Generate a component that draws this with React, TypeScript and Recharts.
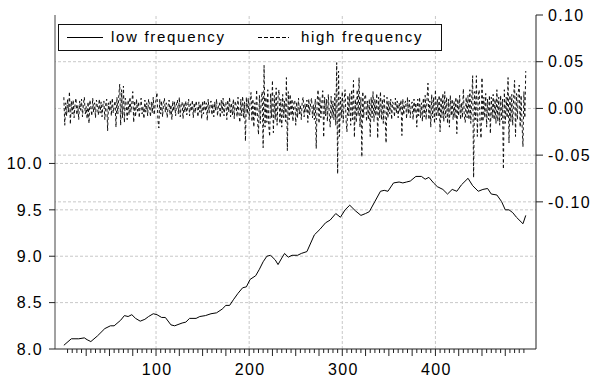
import React from 'react'
import { LineChart, Line, XAxis, YAxis, ReferenceLine, Legend } from 'recharts'

// low frequency component (left axis), read at irregular observation points
const lowX = [
  1, 9, 17, 23, 26, 30, 37, 45, 51, 55, 62, 66, 70, 74, 78, 83, 88, 92, 97, 101,
  106, 110, 116, 120, 128, 132, 136, 143, 147, 153, 159, 165, 171, 175, 179, 183, 188, 193, 197, 201,
  207, 211, 215, 219, 223, 228, 231, 235, 238, 242, 246, 252, 256, 262, 270, 276, 282, 287, 293, 298,
  303, 308, 314, 320, 325, 329, 335, 341, 345, 349, 355, 361, 365, 369, 373, 379, 385, 389, 393, 398,
  402, 408, 413, 418, 423, 428, 435, 440, 446, 451, 456, 460, 466, 471, 475, 479, 483, 487, 494, 497,
]
const lowValues = [
  8.04, 8.11, 8.11, 8.12, 8.10, 8.08, 8.14, 8.22, 8.25, 8.25, 8.31, 8.36, 8.35, 8.37, 8.33, 8.30, 8.32, 8.35, 8.38, 8.37,
  8.34, 8.34, 8.26, 8.25, 8.28, 8.29, 8.33, 8.33, 8.35, 8.36, 8.38, 8.39, 8.43, 8.47, 8.47, 8.53, 8.60, 8.66, 8.67, 8.75,
  8.79, 8.86, 8.94, 9.00, 9.01, 8.96, 8.91, 8.98, 9.03, 8.99, 9.01, 9.01, 9.03, 9.05, 9.23, 9.29, 9.36, 9.39, 9.46, 9.42,
  9.50, 9.55, 9.49, 9.44, 9.46, 9.48, 9.59, 9.70, 9.71, 9.70, 9.79, 9.80, 9.79, 9.80, 9.81, 9.86, 9.86, 9.83, 9.85, 9.79,
  9.75, 9.72, 9.67, 9.72, 9.70, 9.77, 9.84, 9.76, 9.70, 9.72, 9.73, 9.67, 9.66, 9.59, 9.50, 9.50, 9.47, 9.42, 9.35, 9.44,
]

// high frequency component (right axis), observations 1..497
const highValues = [
  0.012, -0.018, 0.006, -0.008, 0.010, -0.004, 0.018, -0.017, 0.008, -0.006,
  0.009, -0.010, 0.004, 0.011, -0.007, 0.003, -0.012, 0.008, -0.002, 0.010,
  -0.009, 0.005, 0.012, -0.006, 0.002, -0.011, 0.007, -0.016, 0.009, 0.001,
  -0.008, 0.011, -0.004, 0.006, -0.010, 0.009, 0.003, -0.007, 0.010, -0.005,
  0.007, -0.009, 0.004, 0.008, -0.012, 0.005, 0.010, -0.024, 0.006, -0.003,
  0.009, -0.008, 0.011, -0.005, 0.003, 0.008, -0.020, 0.012, -0.006, 0.014,
  0.026, -0.018, 0.020, -0.010, 0.024, -0.015, 0.011, 0.004, -0.012, 0.009,
  -0.007, 0.012, -0.004, 0.006, 0.018, -0.015, 0.008, -0.009, 0.010, -0.003,
  0.007, -0.010, 0.005, 0.011, -0.006, 0.002, -0.011, 0.009, -0.004, 0.006,
  -0.008, 0.010, 0.003, -0.009, 0.007, -0.005, 0.012, -0.007, 0.004, 0.009,
  0.017, -0.012, -0.021, 0.010, -0.006, 0.008, -0.009, 0.005, 0.011, -0.004,
  0.006, -0.010, 0.003, 0.009, -0.007, 0.004, -0.012, 0.008, -0.003, 0.007,
  -0.008, 0.005, 0.009, -0.006, 0.012, -0.009, 0.004, 0.007, -0.011, 0.006,
  -0.004, 0.008, -0.007, 0.003, 0.010, -0.008, 0.005, -0.003, 0.009, -0.010,
  0.006, -0.005, 0.008, 0.002, -0.009, 0.007, -0.004, 0.005, -0.011, 0.008,
  -0.006, 0.009, -0.003, 0.006, -0.013, 0.010, -0.005, 0.004, 0.008, -0.007,
  0.005, -0.009, 0.007, -0.002, 0.010, -0.008, 0.003, 0.006, -0.010, 0.009,
  -0.005, 0.011, -0.008, 0.004, 0.007, -0.012, 0.009, -0.004, 0.012, -0.009,
  0.006, -0.007, 0.010, -0.011, 0.008, 0.003, -0.009, 0.012, -0.006, -0.015,
  0.010, -0.008, 0.013, -0.010, 0.007, -0.035, 0.012, -0.006, 0.011, -0.012,
  0.008, 0.017, -0.014, 0.010, -0.020, 0.006, -0.009, 0.020, -0.012, -0.028,
  0.014, -0.016, 0.010, 0.018, -0.042, 0.046, -0.020, 0.012, -0.015, 0.020,
  -0.018, -0.030, 0.016, -0.010, 0.030, -0.026, 0.014, -0.012, 0.022, -0.018,
  0.012, 0.020, -0.016, 0.010, -0.020, 0.015, -0.010, 0.008, -0.014, 0.033,
  -0.045, 0.018, -0.012, 0.015, -0.008, 0.010, -0.014, 0.006, 0.009, -0.018,
  0.007, -0.010, 0.011, -0.006, 0.004, -0.012, 0.008, 0.012, -0.009, 0.005,
  -0.004, 0.009, -0.015, 0.010, -0.007, 0.006, 0.011, -0.010, 0.004, -0.012,
  0.010, -0.043, 0.008, 0.020, -0.016, 0.012, -0.010, 0.006, 0.019, -0.031,
  0.012, -0.008, 0.010, -0.014, 0.015, -0.006, -0.020, 0.013, -0.010, 0.008,
  -0.012, 0.016, -0.018, 0.049, -0.070, 0.040, -0.030, 0.012, -0.010, 0.018,
  -0.015, 0.010, 0.020, -0.012, -0.025, 0.014, -0.008, 0.016, -0.018, 0.020,
  -0.012, 0.030, -0.031, 0.010, -0.015, 0.020, -0.008, 0.033, -0.020, 0.012,
  -0.052, 0.018, -0.010, 0.012, 0.015, -0.014, 0.008, -0.012, 0.010, -0.030,
  0.012, -0.010, 0.018, -0.014, 0.010, -0.008, 0.016, -0.032, 0.012, -0.010,
  0.018, -0.012, 0.010, -0.016, 0.014, -0.008, -0.037, 0.012, -0.010, 0.008,
  -0.006, 0.010, -0.012, 0.007, 0.004, -0.009, 0.011, -0.005, 0.008, -0.010,
  0.006, -0.004, 0.009, -0.029, 0.010, -0.007, 0.005, 0.008, -0.011, 0.012,
  -0.006, 0.009, -0.010, 0.004, 0.007, -0.012, 0.010, -0.005, 0.006, -0.020,
  0.010, -0.008, 0.012, -0.010, 0.006, -0.014, 0.011, -0.009, 0.014, -0.012,
  0.010, 0.027, -0.012, 0.008, -0.020, 0.015, -0.010, 0.012, -0.016, 0.020,
  -0.012, 0.010, -0.008, 0.014, -0.025, 0.012, -0.010, 0.016, -0.014, 0.018,
  -0.010, 0.012, -0.016, 0.010, -0.020, 0.014, -0.008, 0.010, -0.012, 0.008,
  -0.010, 0.012, -0.027, 0.010, -0.008, 0.014, -0.012, 0.006, -0.010, 0.021,
  -0.008, -0.015, 0.012, -0.010, 0.014, -0.012, 0.020, -0.016, 0.010, 0.035,
  -0.074, 0.018, -0.012, 0.035, -0.030, 0.014, 0.020, -0.018, -0.032, 0.033,
  -0.014, 0.012, -0.010, 0.016, -0.020, 0.010, -0.012, 0.014, -0.027, 0.012,
  -0.010, 0.015, -0.012, 0.010, -0.016, 0.020, -0.014, 0.012, -0.018, 0.014,
  -0.012, 0.010, -0.065, 0.020, -0.016, 0.012, -0.010, 0.033, -0.037, 0.014,
  -0.014, 0.015, -0.018, 0.012, 0.030, -0.030, 0.016, -0.012, 0.018, 0.025,
  -0.020, 0.014, -0.016, -0.041, 0.018, -0.010, 0.040,
]

const xTicks = Array.from({ length: 99 }, (_, i) => (i + 1) * 5)
const xGrid = [100, 200, 300, 400]
const leftTicks = [8.0, 8.5, 9.0, 9.5, 10.0]
const rightTicks = [0.1, 0.05, 0.0, -0.05, -0.1]

const lowData = lowX.map((x, i) => ({ x, v: lowValues[i] }))
const highData = highValues.map((v, i) => ({ x: i + 1, v }))

const gridStyle = { stroke: '#c8c8c8', strokeDasharray: '3 2', strokeWidth: 1 }
const axisFont = { fill: '#000', fontSize: 16, letterSpacing: '1.3px' }

function XTick(props: any) {
  const { x, y, payload } = props
  const v = payload.value
  const len = v % 25 === 0 ? 7 : 4
  return (
    <g>
      <line x1={x} y1={y} x2={x} y2={y + len} stroke="#222" />
      {v % 100 === 0 && (
        <text x={x + 1} y={y + 26} textAnchor="middle" {...axisFont}>
          {v}
        </text>
      )}
    </g>
  )
}

function LegendBox() {
  return (
    <div
      style={{
        position: 'relative',
        width: 384,
        height: 27,
        boxSizing: 'border-box',
        border: '1px solid #111',
        background: '#fff',
        fontSize: 15,
        letterSpacing: '1.7px',
        lineHeight: '24px',
        color: '#000',
      }}
    >
      <svg width={384} height={25} style={{ position: 'absolute', left: 0, top: 0 }}>
        <line x1={8} y1={12.5} x2={44} y2={12.5} stroke="#000" strokeWidth={1} />
        <line x1={199} y1={12.5} x2={230} y2={12.5} stroke="#000" strokeWidth={1} strokeDasharray="4 2" />
      </svg>
      <span style={{ position: 'absolute', left: 52, top: 0 }}>low frequency</span>
      <span style={{ position: 'absolute', left: 242, top: 0 }}>high frequency</span>
    </div>
  )
}

export default function App() {
  return (
    <div
      style={{
        position: 'absolute',
        left: 0,
        top: 0,
        width: 590,
        height: 380,
        background: '#fff',
        fontFamily: '"Liberation Sans", Arial, sans-serif',
      }}
    >
      <LineChart width={590} height={380} margin={{ top: 15, right: 0, bottom: 0, left: 0 }}>
        <XAxis
          xAxisId="bottom"
          dataKey="x"
          type="number"
          domain={[-8.5, 508]}
          ticks={xTicks}
          interval={0}
          allowDataOverflow
          height={31}
          tickSize={0}
          tickMargin={0}
          tick={<XTick />}
          axisLine={{ stroke: '#222' }}
        />
        <XAxis
          xAxisId="top"
          orientation="top"
          dataKey="x"
          type="number"
          domain={[-8.5, 508]}
          height={0}
          tick={false}
          tickLine={false}
          axisLine={{ stroke: '#777' }}
        />
        <YAxis
          yAxisId="left"
          type="number"
          domain={[8, 11.6]}
          ticks={leftTicks}
          interval={0}
          allowDataOverflow
          width={55}
          tickSize={6}
          tickMargin={6}
          tickFormatter={(v: number) => v.toFixed(1)}
          tick={axisFont}
          tickLine={{ stroke: '#222' }}
          axisLine={{ stroke: '#444' }}
        />
        <YAxis
          yAxisId="right"
          orientation="right"
          type="number"
          domain={[-0.2575, 0.1]}
          ticks={rightTicks}
          interval={0}
          allowDataOverflow
          width={54}
          tickSize={7}
          tickMargin={5}
          tickFormatter={(v: number) => v.toFixed(2)}
          tick={axisFont}
          tickLine={{ stroke: '#222' }}
          axisLine={{ stroke: '#222' }}
        />
        {xGrid.map(v => (
          <ReferenceLine key={'x' + v} x={v} xAxisId="bottom" yAxisId="left" {...gridStyle} />
        ))}
        {leftTicks.slice(1).map(v => (
          <ReferenceLine key={'l' + v} y={v} xAxisId="bottom" yAxisId="left" {...gridStyle} />
        ))}
        {rightTicks.slice(1).map(v => (
          <ReferenceLine key={'r' + v} y={v} xAxisId="bottom" yAxisId="right" {...gridStyle} />
        ))}
        <Line
          data={lowData}
          xAxisId="bottom"
          yAxisId="left"
          dataKey="v"
          name="low frequency"
          type="linear"
          stroke="#000"
          strokeWidth={1}
          dot={false}
          activeDot={false}
          isAnimationActive={false}
        />
        <Line
          data={highData}
          xAxisId="bottom"
          yAxisId="right"
          dataKey="v"
          name="high frequency"
          type="linear"
          stroke="#111"
          strokeWidth={1}
          strokeDasharray="3 2.5"
          dot={false}
          activeDot={false}
          isAnimationActive={false}
        />
        <Legend
          layout="horizontal"
          align="center"
          verticalAlign="middle"
          wrapperStyle={{ left: 58, top: 24, width: 384, height: 27 }}
          content={() => <LegendBox />}
        />
      </LineChart>
    </div>
  )
}
